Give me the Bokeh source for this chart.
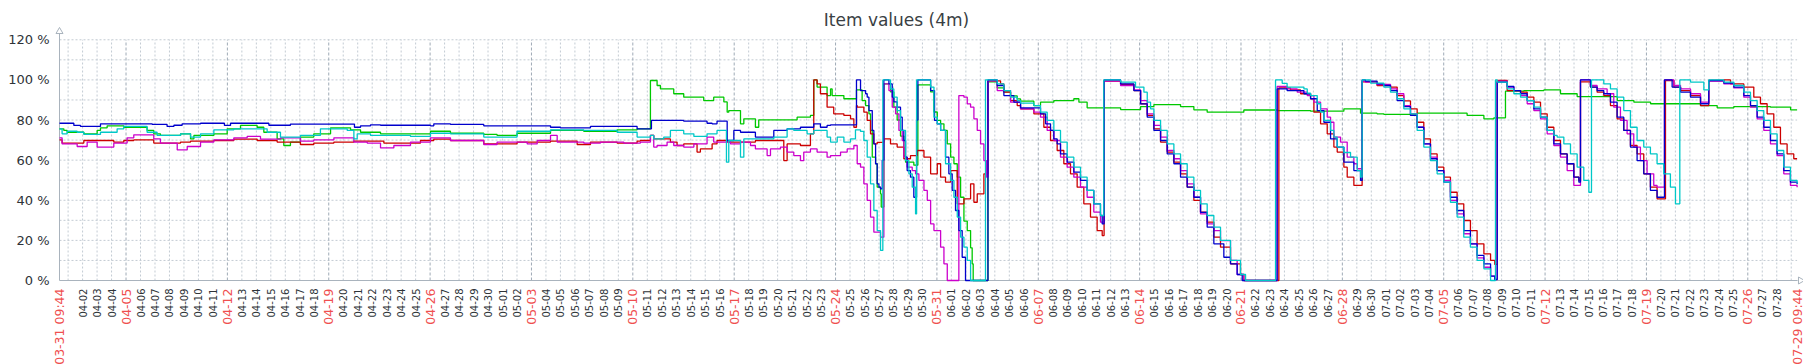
import math
from datetime import datetime, timedelta
from bokeh.plotting import figure
from bokeh.models import ColumnDataSource, LabelSet, Label, Range1d
from bokeh.embed import file_html
from bokeh.resources import INLINE
from bokeh.core.properties import value

TITLE = "Item values (4m)"
START = datetime(2020, 3, 31, 9, 44)
END = datetime(2020, 7, 29, 9, 44)
start_label = "03-31 09:44"
end_label = "07-29 09:44"
y_ticks = [0, 20, 40, 60, 80, 100, 120]
y_labels = ["0 %", "20 %", "40 %", "60 %", "80 %", "100 %", "120 %"]

# (days since 03-31 09:44, percent)
blue_pts = [(0.00, 78.4), (0.99, 77.3), (1.45, 76.8), (2.83, 78.1), (6.40, 77.8), (7.43, 76.8), (7.90, 77.4), (8.47, 78.1), (9.74, 78.4), (11.39, 77.3), (11.81, 78.4), (14.46, 77.4), (15.95, 78.0), (20.37, 76.4), (20.79, 77.1), (21.48, 77.6), (22.17, 77.4), (25.62, 77.1), (25.85, 78.1),
    (27.00, 77.8), (29.30, 77.1), (33.91, 76.4), (34.60, 76.1), (36.67, 76.8), (39.89, 75.6),
    (40.88, 79.8), (43.11, 79.4), (44.72, 78.4), (45.07, 78.1), (45.41, 79.4), (46.11, 69.8), (46.57, 74.8), (47.03, 73.9), (48.06, 71.5), (49.33, 74.8), (50.25, 75.6), (51.17, 76.4), (52.09, 78.1), (52.55, 76.4), (53.01, 77.3), (53.25, 77.6),
    (55.04, 100.0), (55.32, 94.7), (55.67, 93.1), (55.78, 91.4), (55.90, 84.7), (56.13, 74.8), (56.24, 68.1), (56.36, 58.2), (56.47, 48.2), (56.59, 46.5), (56.70, 45.7), (56.82, 60.0), (56.93, 100.0), (57.28, 98.0), (57.51, 91.4), (57.62, 89.0), (57.85, 86.4), (58.08, 81.4), (58.20, 74.8), (58.31, 69.8), (58.43, 61.5), (58.54, 54.8), (58.77, 51.5), (59.00, 41.5), (59.19, 80.0), (59.28, 100.0), (60.16, 94.7), (60.43, 79.8), (60.62, 78.1), (60.85, 74.8), (61.19, 61.5), (61.42, 53.2), (61.65, 44.9), (61.88, 34.9), (62.11, 24.9), (62.34, 11.6), (62.57, 0.0),
    (64.12, 100.0), (64.76, 97.2), (65.22, 92.2), (65.91, 88.9), (66.37, 86.1), (67.75, 83.1), (68.10, 78.1), (68.44, 74.8), (68.67, 70.6), (68.90, 68.1), (69.13, 63.1), (69.59, 59.0), (70.05, 54.0), (70.51, 49.9), (70.97, 44.9), (71.43, 38.2), (71.89, 32.4), (72.01, 28.2),
    (72.14, 100.0), (73.28, 98.0), (74.20, 94.7), (74.66, 88.0), (75.12, 81.4), (75.58, 74.8), (76.04, 69.8), (76.50, 63.1), (76.96, 58.2), (77.42, 51.5), (77.88, 46.5), (78.34, 41.5), (78.80, 34.0), (79.26, 26.6), (79.72, 18.3), (80.41, 11.6), (80.87, 8.3), (81.33, 3.0), (81.68, 0.0),
    (84.09, 95.5), (84.78, 94.7), (85.94, 93.1), (86.40, 90.6), (86.86, 84.7), (87.32, 78.9), (87.78, 70.6), (88.24, 66.5), (88.70, 59.0), (89.39, 54.8), (89.85, 49.9),
    (89.96, 100.0), (90.19, 99.4), (90.99, 98.0), (91.46, 97.2), (91.92, 94.7), (92.38, 89.7), (92.84, 86.7), (93.30, 82.3), (93.76, 76.4), (94.22, 68.1), (94.68, 60.7), (95.14, 54.8), (95.60, 49.0), (96.06, 41.5), (96.52, 34.9), (96.98, 24.9), (97.44, 18.3), (97.90, 12.5), (98.37, 8.3), (98.83, 2.2), (99.12, 0.5),
    (99.29, 98.9), (99.98, 96.7), (100.44, 94.7), (100.90, 93.1), (101.36, 89.7), (101.82, 85.6), (102.28, 81.4), (102.74, 74.8), (103.20, 68.1), (103.66, 63.1), (104.12, 58.2), (104.58, 51.5), (104.93, 49.0),
    (105.04, 100.0), (105.73, 96.4), (106.19, 94.7), (106.65, 93.1), (107.11, 88.9), (107.57, 81.4), (108.03, 74.8), (108.49, 66.5), (108.95, 59.8), (109.41, 53.2), (109.87, 44.9), (110.33, 41.5),
    (110.84, 100.0), (111.37, 96.4), (111.95, 93.9), (112.64, 91.4), (113.33, 88.1), (113.90, 99.7), (114.94, 98.4), (115.63, 96.4), (116.32, 92.2), (116.78, 87.2), (117.24, 81.4), (117.70, 76.4), (118.16, 69.8), (118.62, 63.1), (119.08, 54.8), (119.54, 49.0), (120.00, 48.0)]

green_pts = [(0.00, 75.6), (0.30, 74.8), (0.53, 73.9), (1.68, 73.1), (2.60, 74.8), (2.83, 76.1), (3.29, 77.1), (4.44, 76.4), (6.05, 74.8), (6.51, 73.1), (6.97, 72.3), (8.36, 73.1), (9.05, 70.6), (9.28, 72.3), (10.66, 73.1), (11.58, 75.6), (12.50, 77.3), (13.65, 76.4), (14.11, 73.9), (15.03, 70.6), (15.49, 67.3), (15.95, 69.0), (16.64, 71.5), (17.56, 73.1), (18.72, 76.1), (20.10, 75.1), (20.79, 73.9), (22.17, 73.1), (25.62, 74.4),
    (27.00, 73.4), (29.30, 72.8), (30.22, 72.3), (31.60, 73.4), (33.91, 74.8), (36.21, 74.3), (38.51, 75.1), (39.89, 75.6),
    (40.81, 99.7), (41.27, 97.2), (41.50, 95.5), (42.42, 93.1), (43.11, 91.4), (44.49, 89.7), (45.18, 91.4), (45.88, 89.0), (46.11, 83.9), (46.22, 84.7), (47.03, 78.1), (47.26, 80.6), (48.06, 76.4), (48.29, 80.1), (50.94, 81.4), (51.86, 82.3),
    (52.09, 100.0), (52.32, 96.4), (53.01, 92.2), (53.25, 95.5), (53.36, 92.2), (54.17, 90.6), (55.04, 95.0), (55.43, 89.7), (55.67, 87.2), (55.90, 83.1), (56.01, 74.8), (56.13, 61.5), (56.36, 58.2), (56.47, 46.5), (56.70, 43.2), (56.75, 36.6),
    (56.93, 98.0), (57.39, 94.0), (57.62, 86.4), (57.85, 80.0), (58.08, 72.0), (58.31, 62.0), (58.43, 59.0), (59.00, 57.5), (59.28, 97.5), (60.16, 94.0), (60.39, 84.0), (60.62, 79.8), (60.85, 78.1), (61.08, 74.8), (61.31, 68.1), (61.54, 61.5), (61.77, 58.2), (62.00, 51.5), (62.23, 41.5), (62.46, 29.6), (62.69, 24.9), (62.92, 16.3), (63.03, 8.3), (63.10, 0.0),
    (64.12, 99.0), (64.76, 96.0), (65.22, 94.0), (65.68, 92.0), (66.14, 90.5), (66.37, 89.4), (67.29, 87.2), (67.75, 88.9), (68.67, 89.7), (70.05, 90.6), (70.40, 88.9), (70.97, 86.1), (73.28, 85.2), (74.66, 86.7), (75.58, 87.7), (77.42, 86.7), (78.34, 85.1), (79.26, 83.9), (81.79, 85.0), (84.09, 84.7), (86.40, 84.4), (88.70, 85.6), (89.85, 83.4), (90.99, 83.1), (91.46, 82.8), (93.76, 83.4), (97.21, 82.3), (98.37, 80.6), (99.06, 81.1),
    (99.86, 94.4), (101.13, 94.7), (102.51, 95.0), (103.66, 93.1), (104.81, 91.7), (107.58, 89.7), (108.73, 88.9), (109.88, 88.1), (113.33, 87.2), (114.48, 86.1), (115.63, 86.7), (118.16, 86.4), (119.55, 85.1), (120.00, 85.1)]

cyan_pts = [(0.00, 75.6), (0.18, 73.1), (0.53, 74.4), (1.22, 73.9), (1.68, 72.8), (2.83, 73.9), (3.98, 75.6), (4.44, 76.8), (6.05, 73.9), (6.74, 72.3), (8.36, 73.1), (9.05, 71.5), (9.74, 73.1), (10.66, 75.1), (12.04, 75.6), (14.34, 73.9), (15.26, 71.5), (16.64, 72.3), (18.02, 75.6), (19.87, 74.8), (20.33, 70.6), (20.56, 73.1), (21.48, 72.3), (24.24, 71.8), (25.62, 73.4),
    (27.00, 73.1), (29.30, 71.5), (31.60, 74.4), (33.91, 75.1), (36.21, 74.8), (38.51, 73.9), (39.89, 71.5),
    (40.81, 72.3), (41.04, 70.6), (41.73, 71.5), (42.19, 74.8), (43.11, 73.1), (43.81, 71.8), (44.72, 73.1), (45.41, 74.8), (46.06, 59.0), (46.22, 69.8), (47.03, 61.5), (47.26, 70.6), (49.33, 71.5), (50.25, 75.6), (50.71, 74.8), (51.63, 73.1), (52.09, 74.8), (53.01, 71.5), (53.25, 69.0), (53.71, 71.5), (54.17, 69.0), (54.63, 70.6), (54.97, 75.1), (55.32, 74.3), (55.55, 69.8), (55.78, 61.5), (56.01, 48.2), (56.24, 34.9), (56.47, 24.9), (56.70, 15.0),
    (56.86, 100.0), (57.39, 95.5), (57.62, 91.4), (57.85, 84.7), (58.08, 74.8), (58.43, 59.8), (58.66, 53.2), (58.89, 46.5), (59.12, 33.2), (59.19, 100.0), (60.16, 96.4), (60.39, 81.4), (60.62, 78.1), (60.85, 74.8), (61.19, 58.2), (61.54, 49.9), (61.77, 41.5), (62.00, 31.6), (62.23, 21.6), (62.46, 16.6), (62.69, 10.0), (62.92, 0.0),
    (63.95, 100.0), (64.76, 98.0), (65.22, 94.7), (65.68, 91.4), (66.14, 89.7), (66.37, 88.4), (67.29, 87.2), (67.75, 83.9), (68.21, 79.8), (68.67, 74.8), (69.13, 69.0), (69.59, 61.5), (70.05, 56.5), (70.51, 51.5), (70.97, 44.9), (71.43, 38.2), (71.89, 32.4),
    (72.12, 100.0), (73.28, 98.9), (74.31, 96.4), (74.89, 93.9), (75.12, 88.9), (75.35, 85.6), (75.58, 79.8), (76.04, 74.8), (76.50, 68.1), (76.96, 63.1), (77.42, 58.2), (77.88, 51.5), (78.34, 44.9), (78.80, 38.2), (79.26, 32.4), (79.72, 26.6), (80.18, 20.0), (80.87, 10.0), (81.56, 3.0), (81.91, 0.0),
    (83.98, 100.0), (84.44, 98.3), (84.78, 96.4), (85.94, 95.5), (86.17, 93.4), (86.40, 92.2), (86.86, 88.1), (87.09, 83.9), (87.32, 79.8), (87.78, 74.8), (88.01, 71.5), (88.24, 66.5), (88.70, 63.8), (89.16, 61.5), (89.62, 54.8), (89.85, 51.5),
    (89.96, 100.0), (90.54, 98.4), (91.46, 96.4), (91.92, 93.9), (92.38, 90.6), (92.84, 85.6), (93.30, 83.1), (93.76, 74.8), (94.22, 66.5), (94.68, 59.8), (95.14, 53.2), (95.60, 49.0), (96.06, 39.0), (96.52, 31.6), (96.98, 21.6), (97.44, 16.6), (97.90, 10.0), (98.37, 5.8), (98.83, 0.0),
    (99.17, 100.0), (99.29, 98.9), (99.98, 95.5), (100.44, 93.1), (100.90, 91.4), (101.36, 89.7), (101.82, 86.4), (102.28, 81.4), (102.74, 74.8), (103.20, 72.3), (103.43, 71.5), (103.89, 68.1), (104.35, 63.1), (104.81, 56.5), (105.27, 49.9), (105.62, 44.0),
    (105.80, 100.0), (106.65, 98.0), (107.11, 95.5), (107.57, 91.4), (108.03, 84.7), (108.49, 76.4), (108.95, 69.8), (109.41, 66.5), (109.87, 63.1), (110.33, 58.2), (110.79, 53.2), (111.25, 46.5), (111.60, 38.2),
    (111.90, 100.0), (112.64, 98.9), (113.56, 95.0), (113.90, 100.0), (114.94, 98.9), (115.63, 97.2), (116.32, 93.9), (116.78, 89.7), (117.24, 84.7), (117.70, 79.8), (118.16, 73.1), (118.62, 64.8), (119.08, 56.5), (119.54, 49.9), (120.00, 48.5)]

red_pts = [(0.00, 70.1), (0.18, 68.5), (1.68, 69.8), (3.75, 69.0), (4.44, 69.8), (5.13, 70.1), (6.51, 68.5), (8.36, 69.0), (9.05, 69.5), (10.66, 69.8), (12.04, 70.5), (13.65, 69.8), (15.03, 69.0), (16.64, 67.8), (17.56, 68.5), (18.95, 69.0), (20.33, 69.5), (22.40, 68.5), (24.93, 69.8), (25.85, 70.5),
    (27.00, 69.8), (29.30, 68.1), (31.60, 69.0), (33.91, 69.5), (35.75, 67.8), (36.67, 69.0), (38.51, 68.5), (39.89, 69.5),
    (40.12, 69.8), (40.81, 72.3), (41.04, 70.6), (42.19, 69.0), (42.65, 67.3), (43.11, 68.1), (44.03, 64.0), (44.26, 65.6), (45.07, 68.1), (45.41, 69.8), (46.11, 69.0), (48.06, 69.8), (50.02, 59.8), (50.25, 68.1), (51.17, 67.3), (51.86, 73.1),
    (52.09, 100.0), (52.32, 98.0), (52.55, 93.1), (53.01, 86.4), (53.47, 83.1), (54.17, 82.3), (54.63, 80.6), (54.86, 76.4), (55.04, 87.2), (55.09, 86.4), (55.55, 83.9), (55.78, 79.8), (56.01, 73.1), (56.24, 68.1), (56.47, 68.9), (56.93, 70.6), (57.39, 68.1), (57.85, 66.5), (58.31, 60.7), (58.77, 62.3), (59.24, 64.8), (59.70, 61.5), (60.16, 53.2), (60.62, 58.2), (60.85, 51.5), (61.19, 49.0), (61.54, 54.8), (62.00, 38.2), (62.46, 40.7), (62.92, 48.2), (63.15, 39.0), (63.38, 43.2), (63.84, 53.2),
    (64.12, 99.5), (64.99, 98.0), (65.22, 93.9), (65.68, 89.7), (66.14, 87.2), (66.37, 85.6), (67.29, 83.1), (67.98, 76.4), (68.44, 69.8), (68.90, 64.8), (69.36, 58.2), (69.82, 53.2), (70.28, 46.5), (70.74, 38.2), (71.20, 31.6), (71.66, 24.9), (72.01, 22.4),
    (72.14, 99.4), (73.28, 97.7), (74.20, 94.7), (74.66, 88.1), (75.12, 82.3), (75.58, 75.6), (76.04, 69.0), (76.50, 64.0), (76.96, 59.0), (77.42, 53.2), (77.88, 46.5), (78.34, 39.9), (78.80, 34.1), (79.26, 29.1), (79.72, 21.6), (80.18, 16.6), (80.87, 8.3), (81.56, 3.0), (81.79, 0.0),
    (84.21, 96.0), (85.01, 95.0), (85.71, 93.1), (86.40, 90.6), (86.63, 83.9), (87.09, 78.1), (87.55, 73.1), (88.01, 66.5), (88.24, 64.0), (88.70, 56.5), (88.93, 51.5), (89.39, 47.4),
    (89.96, 99.0), (90.99, 97.2), (91.92, 96.4), (92.38, 92.2), (92.84, 89.5), (93.30, 85.6), (93.76, 78.9), (94.22, 70.6), (94.68, 63.1), (95.14, 56.5), (95.60, 51.5), (96.06, 44.0), (96.52, 38.2), (96.98, 29.9), (97.44, 24.9), (97.90, 18.3), (98.37, 13.3), (98.83, 10.0), (99.12, 8.0),
    (99.29, 99.7), (99.98, 94.7), (100.90, 93.9), (101.36, 91.4), (101.82, 88.9), (102.28, 83.1), (102.74, 76.4), (103.20, 69.8), (103.66, 63.1), (104.12, 58.2), (104.58, 51.5), (104.93, 49.9),
    (105.04, 99.0), (105.73, 96.4), (106.19, 93.9), (106.65, 92.2), (107.11, 87.2), (107.57, 80.6), (108.03, 74.8), (108.49, 67.3), (108.95, 63.1), (109.41, 53.2), (109.87, 46.5), (110.33, 40.7),
    (110.91, 99.7), (111.49, 96.4), (111.95, 94.7), (112.64, 92.2), (113.33, 87.2), (113.90, 99.7), (114.94, 100.0), (115.40, 98.0), (116.32, 96.4), (117.01, 91.4), (117.47, 88.1), (117.93, 83.1), (118.39, 76.4), (118.85, 68.1), (119.31, 63.1), (119.77, 60.7), (120.00, 60.7)]

magenta_pts = [(0.00, 71.1), (0.18, 68.1), (1.22, 66.8), (1.91, 69.0), (2.60, 66.5), (3.75, 68.5), (4.67, 71.1), (5.13, 72.6), (6.51, 70.6), (6.97, 68.5), (8.13, 65.1), (8.82, 66.8), (9.74, 69.0), (10.66, 70.1), (12.04, 71.1), (12.96, 71.8), (13.88, 70.5), (15.26, 71.1), (16.64, 69.5), (17.56, 70.1), (18.95, 71.1), (20.33, 69.0), (21.25, 68.5), (22.17, 66.1), (23.09, 67.3), (24.24, 69.0), (25.62, 71.1),
    (27.00, 69.8), (29.30, 67.8), (30.22, 69.0), (32.30, 68.1), (32.99, 69.8), (33.91, 72.3), (34.37, 69.0), (36.21, 68.5), (37.36, 69.0), (38.97, 68.5), (40.12, 69.0), (40.81, 72.3),
    (41.04, 66.5), (41.27, 67.3), (41.96, 69.0), (42.42, 67.3), (43.11, 66.5), (43.81, 68.1), (44.72, 71.5), (45.18, 69.0), (46.34, 68.1), (47.03, 69.0), (47.72, 67.3), (48.06, 65.6), (48.87, 62.3), (49.10, 65.6), (49.79, 66.5), (50.25, 64.0), (50.71, 62.3), (51.17, 59.8), (51.40, 64.0), (51.86, 65.6), (52.32, 64.0), (53.01, 61.5), (53.25, 62.3), (53.94, 64.0), (54.40, 65.6), (54.86, 67.3), (55.09, 58.2), (55.32, 56.5), (55.55, 48.2), (55.78, 39.9), (56.01, 31.6), (56.24, 24.1), (56.70, 21.6),
    (56.93, 98.0), (57.28, 94.7), (57.51, 86.4), (57.74, 83.1), (57.97, 74.8), (58.20, 69.8), (58.31, 61.5), (58.54, 56.5), (58.89, 54.8), (59.12, 53.2), (59.35, 49.9), (59.70, 44.9), (59.93, 39.9), (60.16, 28.2), (60.39, 24.9), (60.85, 16.6), (61.08, 8.3), (61.31, 0.0),
    (62.11, 92.2), (62.46, 91.4), (62.69, 88.0), (62.92, 86.4), (63.15, 80.6), (63.38, 74.8), (63.61, 68.1), (63.84, 59.8), (64.02, 51.5),
    (64.12, 99.5), (64.76, 94.7), (65.68, 88.9), (66.37, 85.6), (67.29, 83.9), (67.75, 81.4), (68.21, 74.8), (68.67, 69.8), (69.13, 61.5), (69.59, 56.5), (70.05, 51.5), (70.51, 46.5), (70.97, 41.5), (71.43, 34.1), (71.89, 29.1),
    (72.14, 99.4), (73.28, 97.2), (74.20, 95.0), (74.66, 89.7), (75.12, 83.1), (75.58, 77.3), (76.04, 71.5), (76.50, 64.8), (76.96, 60.7), (77.42, 54.8), (77.88, 48.2), (78.34, 41.5), (78.80, 33.2), (79.26, 28.2), (79.72, 24.9), (80.18, 19.9), (80.87, 10.0), (81.33, 3.0), (81.79, 0.0),
    (84.09, 96.7), (84.78, 95.5), (85.48, 93.9), (86.17, 92.2), (86.63, 88.9), (87.09, 85.6), (87.55, 81.4), (87.78, 78.9), (88.01, 71.5), (88.47, 69.0), (88.93, 61.5), (89.39, 58.2), (89.62, 55.7),
    (89.96, 99.4), (90.19, 98.9), (90.99, 97.7), (91.92, 95.5), (92.38, 93.1), (92.84, 87.2), (93.30, 83.1), (93.76, 76.4), (94.22, 68.1), (94.68, 61.5), (95.14, 54.8), (95.60, 49.9), (96.06, 39.9), (96.52, 33.2), (96.98, 23.3), (97.44, 18.3), (97.90, 11.3), (98.37, 6.6), (98.83, 2.2), (99.12, 0.5),
    (99.29, 99.4), (99.98, 96.4), (100.44, 94.7), (100.90, 92.2), (101.36, 88.1), (101.82, 84.7), (102.28, 80.6), (102.74, 73.1), (103.20, 67.3), (103.66, 61.5), (104.12, 54.8), (104.58, 47.4),
    (105.04, 100.0), (105.73, 97.2), (106.19, 95.5), (106.88, 93.1), (107.34, 86.4), (107.80, 79.8), (108.26, 73.1), (108.72, 66.5), (109.18, 59.8), (109.64, 53.2), (110.10, 47.4), (110.33, 46.5),
    (110.84, 100.0), (111.49, 97.2), (111.95, 95.5), (112.64, 93.1), (113.33, 88.9), (113.90, 99.4), (114.94, 98.0), (115.63, 96.0), (116.32, 91.4), (116.78, 86.4), (117.24, 80.6), (117.70, 74.8), (118.16, 68.1), (118.62, 62.3), (119.08, 53.2), (119.54, 47.4), (120.00, 46.5)]

series = [
    ("green", green_pts, "#00c800"),
    ("red", red_pts, "#cc0000"),
    ("magenta", magenta_pts, "#cc00cc"),
    ("blue", blue_pts, "#0000cc"),
    ("cyan", cyan_pts, "#00c8c8"),
]

# ---- geometry: the frame fills the whole canvas ----
W, H = 1803, 364
PX_DAY = 14.48          # pixels per day
PX_PCT = 2.006          # pixels per percent
ORIGIN_X, ORIGIN_Y = 59, 280   # where (start, 0 %) sits on the canvas

def days(dt):
    return (dt - START).total_seconds() / 86400.0

span = days(END)

p = figure(width=W, height=H, output_backend="svg", toolbar_location=None,
           x_range=Range1d(-ORIGIN_X / PX_DAY, (W - ORIGIN_X) / PX_DAY),
           y_range=Range1d(-(H - ORIGIN_Y) / PX_PCT, ORIGIN_Y / PX_PCT),
           x_axis_location=None, y_axis_location=None, title=None,
           min_border_left=0, min_border_right=0, min_border_top=0, min_border_bottom=0)
p.xgrid.visible = False
p.ygrid.visible = False
p.outline_line_color = None
p.background_fill_color = "white"
p.border_fill_color = "white"

# grid
hy = list(range(10, 121, 10))
p.segment(x0=[0] * len(hy), y0=hy, x1=[span] * len(hy), y1=hy,
          line_color="#c3cbd3", line_dash="2 2", line_width=1)

midnights = []
d = datetime(START.year, START.month, START.day) + timedelta(days=1)
while d <= END:
    midnights.append(d)
    d += timedelta(days=1)

day_x = [days(m) for m in midnights if m.weekday() != 6]
week_x = [days(m) for m in midnights if m.weekday() == 6]
p.segment(x0=day_x, y0=[0] * len(day_x), x1=day_x, y1=[120] * len(day_x),
          line_color="#c3cbd3", line_dash="2 2", line_width=1)
p.segment(x0=week_x, y0=[0] * len(week_x), x1=week_x, y1=[120] * len(week_x),
          line_color="#9faab6", line_dash="3 2", line_width=1)

# axis lines with arrow heads
top_arrow = (280 - 31) / PX_PCT
right_arrow = (1800 - ORIGIN_X) / PX_DAY
p.segment(x0=[0, 0], y0=[0, 0], x1=[0, right_arrow - 0.2], y1=[top_arrow - 0.8, 0],
          line_color="#a9b3bd", line_width=1)
p.scatter(x=[0], y=[top_arrow], marker="triangle", size=7,
          fill_color="white", line_color="#a9b3bd")
p.scatter(x=[right_arrow], y=[0], marker="triangle", size=7, angle=-math.pi / 2,
          fill_color="white", line_color="#a9b3bd")

# data
for name, pts, col in series:
    xs = [t for t, _ in pts]
    ys = [v for _, v in pts]
    p.step(x=xs, y=ys, mode="after", line_color=col, line_width=1.3)

# y labels
ysrc = ColumnDataSource(dict(x=[-10 / PX_DAY] * len(y_ticks), y=y_ticks, text=y_labels))
p.add_layout(LabelSet(x="x", y="y", text="text", source=ysrc,
                      text_font=value("DejaVu Sans"), text_font_size="13px",
                      text_color="#2e3338", text_align="right", text_baseline="middle"))

# x labels
lab_y = -8 / PX_PCT
blk = [m for m in midnights if m.weekday() != 6 and 1 < days(m) < span - 1.2]
red = [m for m in midnights if m.weekday() == 6]
bsrc = ColumnDataSource(dict(x=[days(m) for m in blk], y=[lab_y] * len(blk),
                             text=[m.strftime("%m-%d") for m in blk]))
rsrc = ColumnDataSource(dict(x=[0] + [days(m) for m in red] + [span],
                             y=[lab_y] * (len(red) + 2),
                             text=[start_label] + [m.strftime("%m-%d") for m in red] + [end_label]))
p.add_layout(LabelSet(x="x", y="y", text="text", source=bsrc, angle=math.pi / 2,
                      text_font=value("DejaVu Sans"), text_font_size="10px",
                      text_color="#2e3338", text_align="right", text_baseline="middle"))
p.add_layout(LabelSet(x="x", y="y", text="text", source=rsrc, angle=math.pi / 2,
                      text_font=value("DejaVu Sans"), text_font_size="12.5px",
                      text_color="#ef4f4f", text_align="right", text_baseline="middle"))

# title
p.add_layout(Label(x=(896 - ORIGIN_X) / PX_DAY, y=(280 - 19) / PX_PCT, text=TITLE,
                   text_font="DejaVu Sans", text_font_size="17px", text_color="#3a3f44",
                   text_align="center", text_baseline="alphabetic"))

open("out.html", "w").write(file_html(p, INLINE))
